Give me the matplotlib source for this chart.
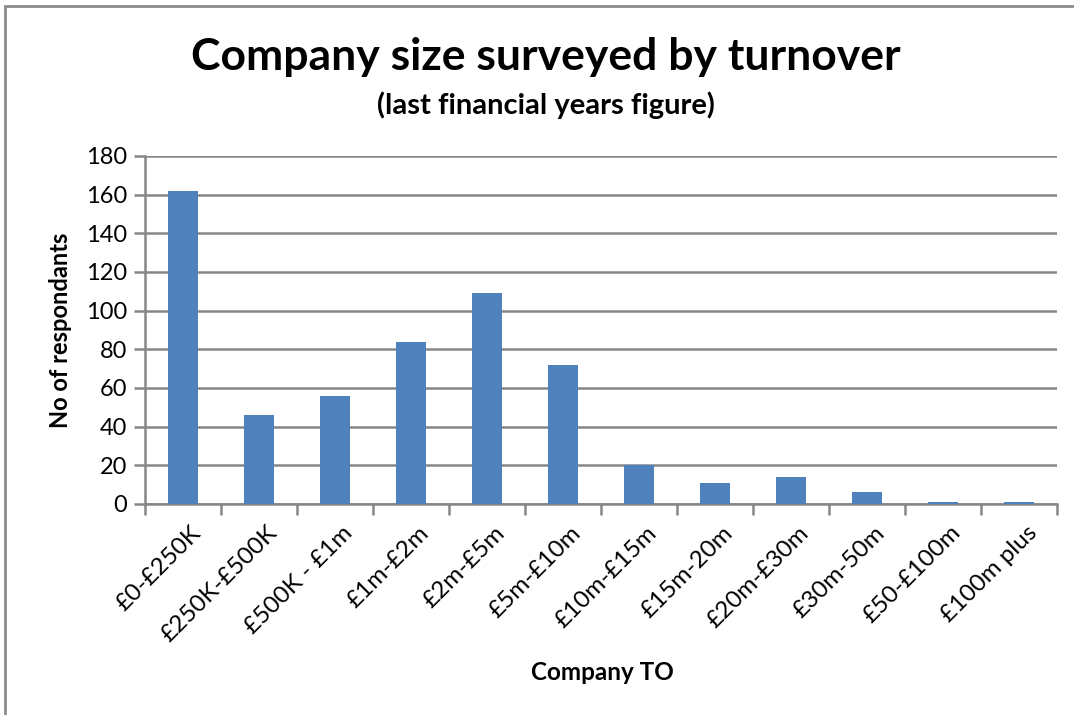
import matplotlib
matplotlib.use("Agg")
import matplotlib.pyplot as plt
from matplotlib.patches import Rectangle
from matplotlib.transforms import ScaledTranslation
import numpy as np

categories = ["£0-£250K", "£250K-£500K", "£500K - £1m", "£1m-£2m", "£2m-£5m",
              "£5m-£10m", "£10m-£15m", "£15m-20m", "£20m-£30m", "£30m-50m",
              "£50-£100m", "£100m plus"]
respondents = [162, 46, 56, 84, 109, 72, 20, 11, 14, 6, 1, 1]
y_ticks = list(range(0, 181, 20))

plt.rcParams['font.family'] = ['Lato', 'DejaVu Sans']

W, H = 1074, 715
fig = plt.figure(figsize=(W / 100, H / 100), dpi=100)
fig.patch.set_facecolor("white")

# chart frame (runs off the right and bottom edges)
fig.patches.append(Rectangle((5 / W, -0.05), 1.2, 1 - 5 / H + 0.05 - 0.5 / H,
                             transform=fig.transFigure, fill=False,
                             edgecolor="#8c8c8c", linewidth=2))

ax = fig.add_axes([145 / W, 1 - 504 / H, (1057 - 145) / W, (504 - 156) / H])
grid_c = "#868686"
x = np.arange(len(categories))
ax.bar(x, respondents, width=0.4, color="#4F81BD", zorder=3)

ax.set_xlim(-0.5, len(categories) - 0.5)
ax.set_ylim(0, 180)
ax.set_yticks(y_ticks)
ax.yaxis.grid(True, color=grid_c, linewidth=1.8, zorder=0)
ax.set_axisbelow(True)
for s in ["top", "right"]:
    ax.spines[s].set_visible(False)
for s in ["left", "bottom"]:
    ax.spines[s].set_color(grid_c)
    ax.spines[s].set_linewidth(1.8)

ax.tick_params(axis="y", length=8, width=1.8, color=grid_c, labelsize=17, pad=5)
ax.tick_params(axis="x", which="major", length=0, labelsize=17.5, pad=13)
ax.set_xticks(np.arange(-0.5, len(categories), 1.0), minor=True)
ax.tick_params(axis="x", which="minor", length=8, width=1.8, color=grid_c)
ax.set_xticks(x)
ax.set_xticklabels(categories, rotation=45, ha="right", va="top",
                   rotation_mode="anchor")
shift = ScaledTranslation(7 / 100, 0, fig.dpi_scale_trans)
for lab in ax.get_xticklabels():
    lab.set_transform(lab.get_transform() + shift)

ax.set_ylabel("No of respondants", fontsize=17, fontweight="bold", labelpad=10)
fig.text(602 / W, 1 - 672 / H, "Company TO", ha="center", va="center",
         fontsize=17.5, fontweight="bold")

fig.text(546 / W, 1 - 57 / H, "Company size surveyed by turnover", ha="center",
         va="center", fontsize=32, fontweight="bold")
fig.text(546 / W, 1 - 105 / H, "(last financial years figure)", ha="center",
         va="center", fontsize=21, fontweight="bold")

fig.savefig("out.png", dpi=100, facecolor="white")
